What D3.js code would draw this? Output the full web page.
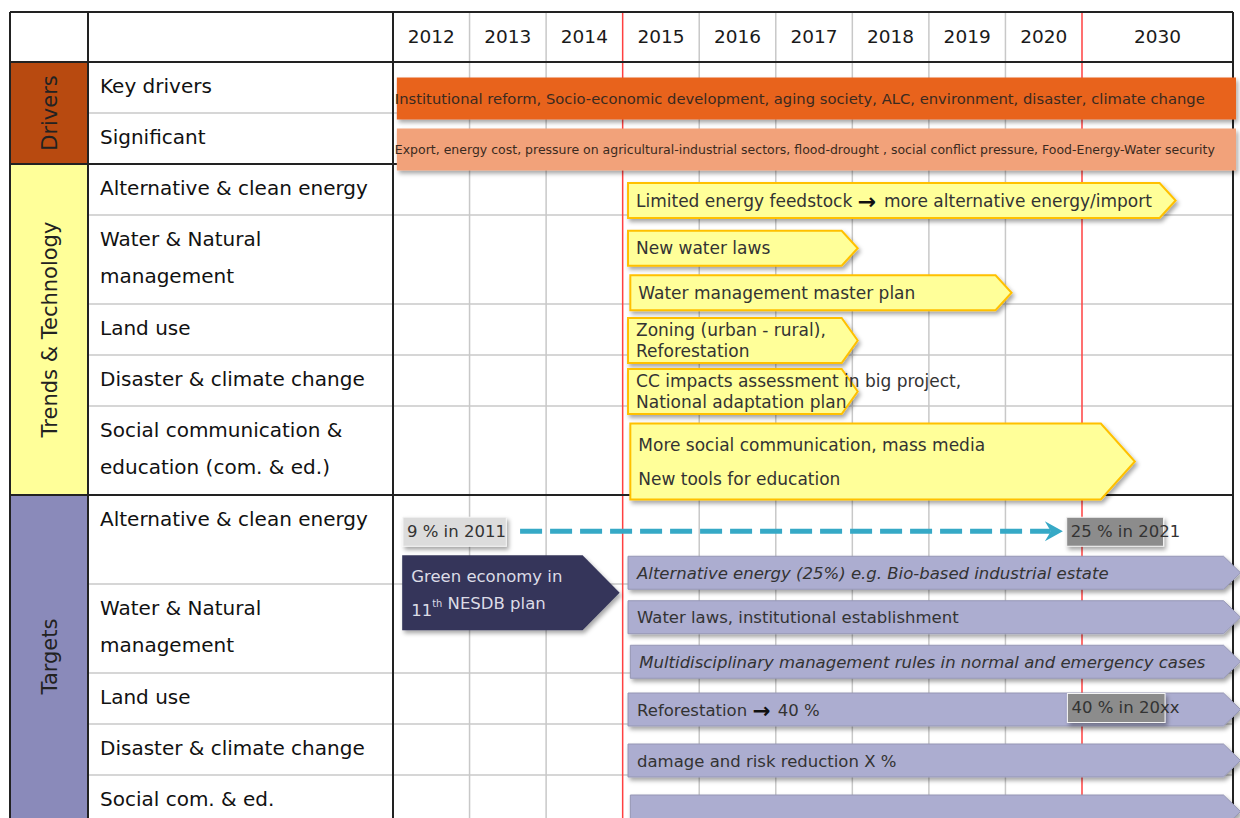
<!DOCTYPE html>
<html>
<head>
<meta charset="utf-8">
<script src="https://cdn.jsdelivr.net/npm/d3@7"></script>
<style>
  body { margin: 0; background: #fff; }
  text { font-family: "DejaVu Sans", sans-serif; }
</style>
</head>
<body>
<script>
// ---- data ----
const years = ["2012", "2013", "2014", "2015", "2016", "2017", "2018", "2019", "2020", "2030"];
// column edges on the time axis; the last column (2030) covers 2021-2030
const yearEdges = [2012, 2013, 2014, 2015, 2016, 2017, 2018, 2019, 2020, 2021, 2031];
const milestones = [2015, 2021];

const groups = ["Drivers", "Trends & Technology", "Targets"];
const rows = [
  {group: 0, lanes: 1, label: ["Key drivers"]},
  {group: 0, lanes: 1, label: ["Significant"]},
  {group: 1, lanes: 1, label: ["Alternative & clean energy"]},
  {group: 1, lanes: 2, label: ["Water & Natural", "management"]},
  {group: 1, lanes: 1, label: ["Land use"]},
  {group: 1, lanes: 1, label: ["Disaster & climate change"]},
  {group: 1, lanes: 2, label: ["Social communication &", "education (com. & ed.)"]},
  {group: 2, lanes: 2, label: ["Alternative & clean energy"]},
  {group: 2, lanes: 2, label: ["Water & Natural", "management"]},
  {group: 2, lanes: 1, label: ["Land use"]},
  {group: 2, lanes: 1, label: ["Disaster & climate change"]},
  {group: 2, lanes: 1, label: ["Social com. & ed."]}
];

const driverBars = [
  {row: 0, from: 2012.05, to: 2031.2, tone: "strong",
   text: "Institutional reform, Socio-economic development, aging society, ALC, environment, disaster, climate change"},
  {row: 1, from: 2012.05, to: 2031.2, tone: "soft",
   text: "Export, energy cost, pressure on agricultural-industrial sectors, flood-drought , social conflict pressure, Food-Energy-Water security"}
];

const trendArrows = [
  {row: 2, lane: 0, span: 1, from: 2015.07, to: 2027.2, text: ["Limited energy feedstock \u2192 more alternative energy/import"]},
  {row: 3, lane: 0, span: 1, from: 2015.07, to: 2018.07, text: ["New water laws"]},
  {row: 3, lane: 1, span: 1, from: 2015.1, to: 2020.08, text: ["Water management master plan"]},
  {row: 4, lane: 0, span: 1, from: 2015.07, to: 2018.07, text: ["Zoning (urban - rural),", "Reforestation"]},
  {row: 5, lane: 0, span: 1, from: 2015.07, to: 2018.07, text: ["CC impacts assessment in big project,", "National adaptation plan"]},
  {row: 6, lane: 0, span: 2, from: 2015.1, to: 2024.5, text: ["More social communication, mass media", "New tools for education"]}
];

const targetArrows = [
  {row: 7, lane: 1, from: 2015.07, to: 2031.5, italic: true, text: "Alternative energy (25%) e.g. Bio-based industrial estate"},
  {row: 8, lane: 0, from: 2015.07, to: 2031.5, italic: false, text: "Water laws, institutional establishment"},
  {row: 8, lane: 1, from: 2015.1, to: 2031.5, italic: true, text: "Multidisciplinary management rules in normal and emergency cases"},
  {row: 9, lane: 0, from: 2015.07, to: 2031.5, italic: false, text: "Reforestation \u2192 40 %"},
  {row: 10, lane: 0, from: 2015.07, to: 2031.5, italic: false, text: "damage and risk reduction X %"},
  {row: 11, lane: 0, from: 2015.1, to: 2031.5, italic: false, text: ""}
];

const planArrow = {row: 7, lane: 1.45, from: 2012.12, to: 2014.96, text: ["Green economy in", "11|th| NESDB plan"]};

const valueBoxes = [
  {row: 7, lane: 0, from: 2012.13, to: 2013.48, tone: "light", text: "9 % in 2011"},
  {row: 7, lane: 0, from: 2020.8, to: 2026.4, tone: "dark", text: "25 % in 2021"},
  {row: 9, lane: 0, from: 2020.81, to: 2026.5, tone: "dark", text: "40 % in 20xx"}
];

const trendLine = {row: 7, lane: 0, from: 2013.66, to: 2020.75};

// ---- layout ----
const width = 1240, height = 818;
const tableLeft = 10, groupW = 78, labelW = 305, tableRight = 1233;
const tableTop = 12, headH = 50, laneOne = 51, laneTwo = 89;
const yearX0 = tableLeft + groupW + labelW;

const x = d3.scaleLinear()
  .domain([2012, 2021, 2031])
  .range([yearX0, 1082, tableRight]);

// row tops, heights
let acc = tableTop + headH;
rows.forEach(r => {
  r.y0 = acc;
  r.h = r.lanes === 2 ? laneTwo : laneOne;
  acc += r.h;
  r.y1 = acc;
});

function laneCenter(row, lane, span) {
  const r = rows[row];
  const lh = r.h / r.lanes;
  return r.y0 + (lane + (span || 1) / 2) * lh + 11;
}

function arrowPath(x0, x1, y0, y1, tip) {
  const cy = (y0 + y1) / 2;
  return `M${x0},${y0}L${x1 - tip},${y0}L${x1},${cy}L${x1 - tip},${y1}L${x0},${y1}Z`;
}

const svg = d3.select("body").append("svg")
  .attr("width", width)
  .attr("height", height);

const defs = svg.append("defs");
defs.append("filter").attr("id", "shadow")
  .attr("x", "-5%").attr("y", "-30%").attr("width", "115%").attr("height", "180%")
  .append("feDropShadow")
  .attr("dx", 2).attr("dy", 3).attr("stdDeviation", 2)
  .attr("flood-color", "#000").attr("flood-opacity", 0.35);

// ---- table backgrounds ----
const groupColors = ["#B84A10", "#FFFF99", "#8A8ABA"];

groups.forEach((g, i) => {
  const rs = rows.filter(r => r.group === i);
  const y0 = rs[0].y0, y1 = rs[rs.length - 1].y1;
  svg.append("rect")
    .attr("x", tableLeft).attr("y", y0)
    .attr("width", groupW).attr("height", y1 - y0)
    .attr("fill", groupColors[i]);
  svg.append("text")
    .attr("transform", `translate(${tableLeft + groupW / 2 + 1},${(y0 + Math.min(y1, height)) / 2}) rotate(-90)`)
    .attr("text-anchor", "middle")
    .attr("dominant-baseline", "central")
    .attr("font-size", 21)
    .attr("fill", "#222")
    .text(g);
});

// grid lines inside year area
const grid = svg.append("g");
grid.selectAll("line.year")
  .data(yearEdges.slice(1, -1).filter(d => !milestones.includes(d)))
  .join("line")
  .attr("x1", d => x(d)).attr("x2", d => x(d))
  .attr("y1", tableTop).attr("y2", height)
  .attr("stroke", "#c8c8c8").attr("stroke-width", 1.5);

// light row separators (within groups)
grid.selectAll("line.row")
  .data(rows.filter((r, i) => i > 0 && rows[i - 1].group === r.group))
  .join("line")
  .attr("x1", tableLeft + groupW).attr("x2", tableRight)
  .attr("y1", d => d.y0).attr("y2", d => d.y0)
  .attr("stroke", "#c8c8c8").attr("stroke-width", 1.5);

grid.selectAll("line.mile")
  .data(milestones)
  .join("line")
  .attr("x1", d => x(d)).attr("x2", d => x(d))
  .attr("y1", tableTop).attr("y2", height)
  .attr("stroke", "#ff4040").attr("stroke-width", 1.5);

// dark structure lines
const dark = svg.append("g").attr("stroke", "#222").attr("stroke-width", 2);
const groupTops = groups.map((g, i) => rows.find(r => r.group === i).y0);
[tableTop, tableTop + headH].concat(groupTops.slice(1)).forEach(y => {
  dark.append("line").attr("x1", tableLeft).attr("x2", tableRight).attr("y1", y).attr("y2", y);
});
[tableLeft, tableLeft + groupW, yearX0, tableRight].forEach(xx => {
  dark.append("line").attr("x1", xx).attr("x2", xx).attr("y1", tableTop).attr("y2", height);
});

// header years
svg.append("g").selectAll("text")
  .data(years)
  .join("text")
  .attr("x", (d, i) => (x(yearEdges[i]) + x(yearEdges[i + 1])) / 2)
  .attr("y", tableTop + headH / 2 - 1)
  .attr("text-anchor", "middle")
  .attr("dominant-baseline", "central")
  .attr("font-size", 18.5)
  .attr("fill", "#1a1a1a")
  .text(d => d);

// row labels
rows.forEach(r => {
  r.label.forEach((t, j) => {
    svg.append("text")
      .attr("x", tableLeft + groupW + 12)
      .attr("y", r.y0 + 24 + j * 37)
      .attr("dominant-baseline", "central")
      .attr("font-size", 20)
      .attr("fill", "#111")
      .text(t);
  });
});

// fit a text element into a width
function fit(sel, w) {
  const n = sel.node();
  const len = n.getComputedTextLength();
  if (len > w) sel.attr("textLength", w).attr("lengthAdjust", "spacingAndGlyphs");
}

// ---- driver bars ----
const driverColors = {strong: "#E8641E", soft: "#F2A27A"};
driverBars.forEach(d => {
  const cy = laneCenter(d.row, 0);
  svg.append("rect")
    .attr("x", x(d.from)).attr("y", cy - 21)
    .attr("width", x(d.to) - x(d.from)).attr("height", 42)
    .attr("fill", driverColors[d.tone])
    .attr("filter", "url(#shadow)");
  const t = svg.append("text")
    .attr("x", x(d.from) - 2).attr("y", cy)
    .attr("dominant-baseline", "central")
    .attr("font-size", d.tone === "strong" ? 14.8 : 12.5)
    .attr("fill", "#3a2a20")
    .text(d.text);
  fit(t, d.tone === "strong" ? 810 : 826);
});

// ---- arrow labels ----
function arrowText(g, str, tx, ty, size, fill, italic) {
  const t = g.append("text")
    .attr("x", tx).attr("y", ty)
    .attr("dominant-baseline", "central")
    .attr("font-size", size)
    .attr("fill", fill)
    .attr("font-style", italic ? "italic" : null);
  str.split(/(\u2192|\|th\|)/).forEach(part => {
    if (part === "\u2192") {
      t.append("tspan").attr("font-weight", "bold").attr("font-size", size * 1.3).attr("fill", "#111").text(" \u2192 ");
    } else if (part === "|th|") {
      t.append("tspan").attr("font-size", size * 0.6).attr("dy", -7).text("th");
      t.append("tspan").attr("dy", 7).text("");
    } else if (part) {
      t.append("tspan").text(part);
    }
  });
  return t;
}

const trendG = svg.append("g");
trendArrows.forEach(d => {
  const r = rows[d.row];
  const cy = laneCenter(d.row, d.lane, d.span);
  const h = d.span > 1 ? d.span * r.h / r.lanes - 13 : (d.text.length > 1 ? 45 : 35);
  const tip = h > 50 ? 34 : 16;
  trendG.append("path")
    .attr("d", arrowPath(x(d.from), x(d.to), cy - h / 2, cy + h / 2, tip))
    .attr("fill", "#FFFF99")
    .attr("stroke", "#FFC000")
    .attr("stroke-width", 2)
    .attr("filter", "url(#shadow)");
  const step = d.span > 1 ? 34 : 21;
  d.text.forEach((s, j) => {
    arrowText(trendG, s, x(d.from) + 8, cy + (j - (d.text.length - 1) / 2) * step, 17, "#333");
  });
});

// ---- target arrows ----
const targetG = svg.append("g");
targetArrows.forEach(d => {
  const cy = laneCenter(d.row, d.lane);
  targetG.append("path")
    .attr("d", arrowPath(x(d.from), x(d.to), cy - 16.5, cy + 16.5, 17))
    .attr("fill", "#ACADD0")
    .attr("stroke", "#9596b4")
    .attr("stroke-width", 1)
    .attr("filter", "url(#shadow)");
  if (d.text) arrowText(targetG, d.text, x(d.from) + 9, cy, 16.5, "#333", d.italic);
});

// plan arrow (dark)
{
  const d = planArrow;
  const cy = laneCenter(d.row, d.lane);
  svg.append("path")
    .attr("d", arrowPath(x(d.from), x(d.to), cy - 37.5, cy + 37.5, 37))
    .attr("fill", "#35365A")
    .attr("filter", "url(#shadow)");
  d.text.forEach((s, j) => {
    arrowText(svg, s, x(d.from) + 9, cy + (j - 0.5) * 34, 16.5, "#dcdce6");
  });
}

// dashed trend line 9% -> 25%
{
  const d = trendLine;
  const cy = laneCenter(d.row, d.lane) + 3;
  const x0 = x(d.from), x1 = x(d.to);
  svg.append("line")
    .attr("x1", x0).attr("x2", x1 - 12)
    .attr("y1", cy).attr("y2", cy)
    .attr("stroke", "#36A9C6")
    .attr("stroke-width", 5)
    .attr("stroke-dasharray", "22,8");
  svg.append("path")
    .attr("d", `M${x1 - 18},${cy - 10}L${x1},${cy}L${x1 - 18},${cy + 10}L${x1 - 12},${cy}Z`)
    .attr("fill", "#36A9C6");
}

// value boxes
const boxColors = {light: "#DCDCDC", dark: "#8C8C8C"};
valueBoxes.forEach(d => {
  const cy = laneCenter(d.row, d.lane) + (d.row === 7 ? 3 : -2);
  svg.append("rect")
    .attr("x", x(d.from)).attr("y", cy - 14)
    .attr("width", x(d.to) - x(d.from)).attr("height", 29)
    .attr("fill", boxColors[d.tone])
    .attr("stroke", "#f4f4f4").attr("stroke-width", 1)
    .attr("filter", "url(#shadow)");
  svg.append("text")
    .attr("x", x(d.from) + 4).attr("y", cy)
    .attr("dominant-baseline", "central")
    .attr("font-size", 16.5)
    .attr("fill", "#333")
    .text(d.text);
});
</script>
</body>
</html>
